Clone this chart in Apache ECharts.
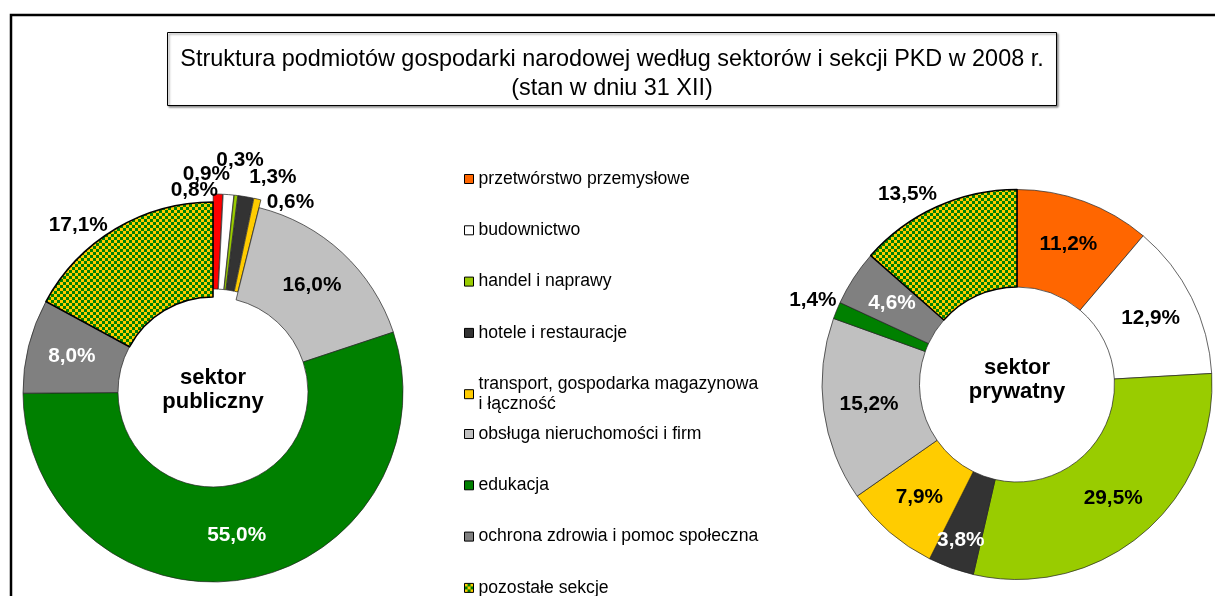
<!DOCTYPE html>
<html>
<head>
<meta charset="utf-8">
<script src="https://cdn.jsdelivr.net/npm/echarts@6/dist/echarts.min.js"></script>
<style>
  html, body { margin: 0; padding: 0; background: #fff; }
  #chart { width: 1215px; height: 596px; }
</style>
</head>
<body>
<div id="chart"></div>
<script>
// sekcje PKD (kolejność jak w legendzie)
var categories = [
  'przetwórstwo przemysłowe',
  'budownictwo',
  'handel i naprawy',
  'hotele i restauracje',
  'transport, gospodarka magazynowa i łączność',
  'obsługa nieruchomości i firm',
  'edukacja',
  'ochrona zdrowia i pomoc społeczna',
  'pozostałe sekcje'
];
// udział w % - sektor publiczny / prywatny
var publicShares = [0.8, 0.9, 0.3, 1.3, 0.6, 16.0, 55.0, 8.0, 17.1];
var privateShares = [11.2, 12.9, 29.5, 3.8, 7.9, 15.2, 1.4, 4.6, 13.5];

var FONT = '"Liberation Sans", Arial, sans-serif';

function checker() { // wzór szachownicy dla "pozostałe sekcje"
  var c = document.createElement('canvas');
  c.width = 6; c.height = 6;
  var ctx = c.getContext('2d');
  ctx.fillStyle = '#008000'; ctx.fillRect(0, 0, 6, 6);
  ctx.fillStyle = '#FFCC00'; ctx.fillRect(0, 0, 3, 3); ctx.fillRect(3, 3, 3, 3);
  return c;
}
var pattern = { image: checker(), repeat: 'repeat' };

var privateColors = ['#FF6600', '#FFFFFF', '#99CC00', '#333333', '#FFCC00', '#C0C0C0', '#008000', '#808080', pattern];
var publicColors = ['#FF0000', '#FFFFFF', '#99CC00', '#333333', '#FFCC00', '#C0C0C0', '#008000', '#808080', pattern];

// ustawienia etykiet (pozycja, odległość, wyrównanie)
var privateLabelStyle = [
  {}, {}, {},
  { pos: 'outside', len: -29, dist: 0, align: 'center', color: '#fff' },
  {}, {},
  { pos: 'outside', len: 0, dist: 0, align: 'right', valign: 'bottom' },
  { color: '#fff' },
  { pos: 'outside', len: 14, dist: -6, align: 'right' }
];
var publicLabelStyle = [
  { pos: 'outside', len: 4, dist: 0, align: 'right', sel: true },
  { pos: 'outside', len: 20, dist: 0, align: 'right', sel: true },
  { pos: 'outside', len: 35, dist: 0, align: 'center', sel: true },
  { pos: 'outside', len: 20, dist: 0, align: 'left', sel: true },
  { pos: 'outside', len: -3, dist: 10, align: 'left', sel: true },
  {},
  { color: '#fff' },
  { color: '#fff' },
  { pos: 'outside', len: 4, dist: 6, align: 'right' }
];

function buildData(values, colors, styles) {
  return values.map(function (v, i) {
    var s = styles[i];
    var isPattern = i === values.length - 1;
    return {
      name: categories[i],
      value: v,
      selected: !!s.sel,
      itemStyle: {
        color: colors[i],
        borderColor: isPattern ? '#000' : '#222',
        borderWidth: isPattern ? 1.6 : 0.7
      },
      label: {
        position: s.pos || 'inside',
        color: s.color || '#000',
        distanceToLabelLine: s.dist || 0
      },
      labelLine: { show: false, length: s.len || 0, length2: 0 }
    };
  });
}

function fmt(p) {
  return p.value.toFixed(1).replace('.', ',') + '%';
}

var chart = echarts.init(document.getElementById('chart'));

function pieSeries(name, center, radius, values, colors, styles) {
  return {
    name: name,
    type: 'pie',
    center: center,
    radius: radius,
    startAngle: 90,
    clockwise: true,
    avoidLabelOverlap: false,
    selectedMode: 'multiple',
    selectedOffset: 8,
    emphasis: { disabled: true },
    select: { itemStyle: {} },
    label: {
      show: true,
      formatter: fmt,
      fontFamily: FONT,
      fontSize: 20.8,
      fontWeight: 'bold'
    },
    data: buildData(values, colors, styles),
    labelLayout: function (p) {
      var s = styles[p.dataIndex];
      return { align: s.align, verticalAlign: s.valign };
    }
  };
}

// legenda w dwóch częściach, bo pozycja dwuwierszowa nie zwiększa odstępu
function legendPart(top, names) {
  return {
    orient: 'vertical',
    left: 459,
    top: top,
    height: 300,
    itemWidth: 9,
    itemHeight: 9,
    itemGap: 31.3,
    icon: 'rect',
    selectedMode: false,
    itemStyle: { borderColor: '#000', borderWidth: 1 },
    data: names,
    formatter: function (name) {
      return name.replace('magazynowa ', 'magazynowa\n');
    },
    textStyle: {
      fontFamily: FONT,
      fontSize: 17.6,
      color: '#000',
      lineHeight: 20
    }
  };
}

var option = {
  backgroundColor: '#fff',
  animation: false,
  title: {
    text: 'Struktura podmiotów gospodarki narodowej według sektorów i sekcji PKD w 2008 r.\n(stan w dniu 31 XII)',
    left: 599,
    top: 32,
    textAlign: 'center',
    padding: [13, 13, 3, 13],
    borderColor: '#000',
    borderWidth: 1,
    backgroundColor: '#fff',
    shadowColor: 'rgba(0,0,0,0.45)',
    shadowBlur: 2,
    shadowOffsetX: 1.5,
    shadowOffsetY: 1.5,
    textStyle: {
      fontFamily: FONT,
      fontSize: 23.4,
      fontWeight: 'normal',
      color: '#000',
      lineHeight: 29
    }
  },
  legend: [
    legendPart(164, categories.slice(0, 5)),
    legendPart(419, categories.slice(5))
  ],
  graphic: [
    {
      type: 'rect',
      shape: { x: 11, y: 15, width: 1400, height: 800 },
      style: { fill: 'none', stroke: '#000', lineWidth: 2.5 },
      silent: true
    },
    {
      type: 'text',
      x: 213, y: 390,
      style: {
        text: 'sektor\npubliczny', fontFamily: FONT, fontSize: 22, fontWeight: 'bold',
        align: 'center', verticalAlign: 'middle', lineHeight: 24, fill: '#000'
      }
    },
    {
      type: 'text',
      x: 1017, y: 380,
      style: {
        text: 'sektor\nprywatny', fontFamily: FONT, fontSize: 22, fontWeight: 'bold',
        align: 'center', verticalAlign: 'middle', lineHeight: 24, fill: '#000'
      }
    }
  ],
  series: [
    pieSeries('sektor prywatny', [1017, 384.5], [97.5, 195], privateShares, privateColors, privateLabelStyle),
    pieSeries('sektor publiczny', [213, 392], [95, 190], publicShares, publicColors, publicLabelStyle)
  ]
};

chart.setOption(option);
</script>
</body>
</html>
